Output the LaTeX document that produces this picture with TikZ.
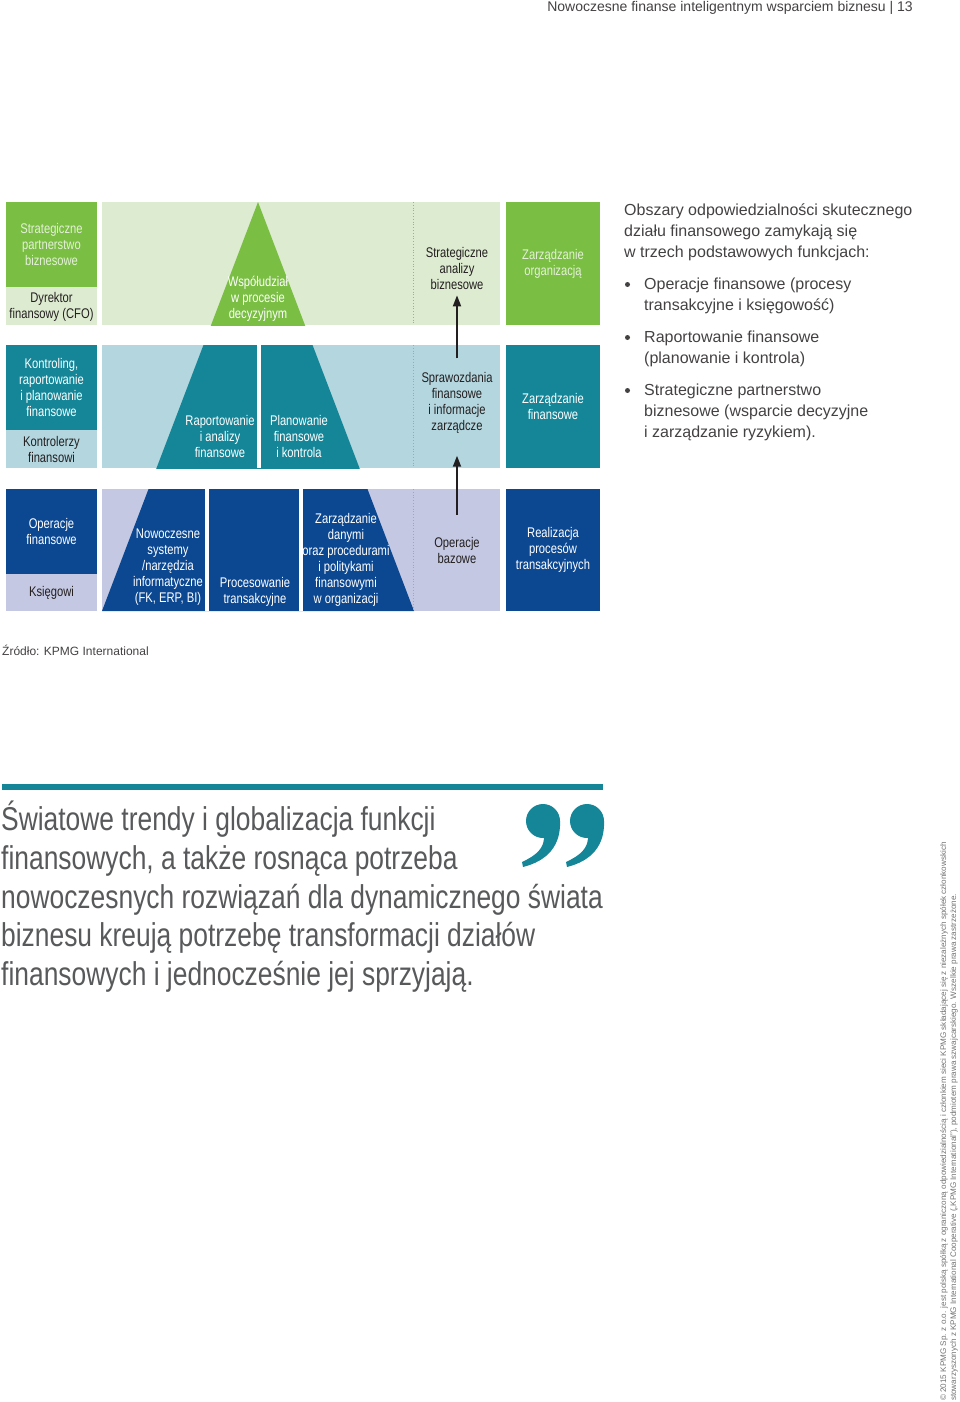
\documentclass[tikz,border=0pt]{standalone}
\usepackage{fontspec}
\setmainfont{Liberation Sans}
\newfontfamily\condfont[FakeStretch=0.8]{Liberation Sans}
\usetikzlibrary{arrows.meta,positioning}
\definecolor{KGreen}{HTML}{7ABE44}
\definecolor{KGreenLight}{HTML}{DDEBD0}
\definecolor{KTeal}{HTML}{148698}
\definecolor{KTealLight}{HTML}{B4D6DE}
\definecolor{KBlue}{HTML}{0C4892}
\definecolor{KBlueLight}{HTML}{C4C8E2}
\definecolor{KText}{HTML}{231F20}
\definecolor{KGrey}{HTML}{58595B}
\definecolor{KPale}{HTML}{E4F1D7}

\begin{document}
\begin{tikzpicture}[x=1pt,y=-1pt,
  cond/.style={font=\condfont\fontsize{14}{16}\selectfont,align=center,inner sep=0pt},
  colbox/.style={cond,minimum width=91pt,minimum height=85pt,text=white},
  rolebox/.style={cond,minimum width=91pt,text=KText},
  rbox/.style={cond,minimum width=94pt,minimum height=123pt,text=white},
  lbl/.style={cond,text=KText},
  inv/.style={cond,text=white},
  body/.style={font=\fontsize{16}{21}\selectfont,text=KText!85,align=left,inner sep=0pt,anchor=north west},
  dot/.style={circle,fill=KText!85,inner sep=0pt,minimum size=5pt},
  arr/.style={-{Triangle[length=11pt,width=8pt]},line width=1.8pt,color=KText},
  divline/.style={draw=black!35,dotted,line width=0.8pt}
]
\useasboundingbox (0,0) rectangle (960,1402);

% naglowek
\node[anchor=base east,inner sep=0pt,font=\fontsize{14}{16}\selectfont,text=KText!85] (head) at (913,12)
  {Nowoczesne finanse inteligentnym wsparciem biznesu | 13};

% tla pasow
\fill[KGreenLight] (102,202) rectangle (500,325);
\fill[KTealLight] (102,345) rectangle (500,468);
\fill[KBlueLight] (102,489) rectangle (500,611);

% piramida
\foreach \ya/\yb/\rowcol in {202/325/KGreen,345/468/KTeal,489/611/KBlue}{
  \begin{scope}
    \clip (102,\ya) rectangle (500,\yb);
    \fill[\rowcol] (258,202) -- (414,611) -- (102,611) -- cycle;
  \end{scope}
}
\fill[white] (257,345) rectangle (261,468);
\fill[white] (205,489) rectangle (209,611);
\fill[white] (299,489) rectangle (303,611);
\foreach \ya/\yb in {202/325,345/468,489/611}
  \draw[divline] (413,\ya) -- (413,\yb);

% lewa kolumna
\node[colbox,fill=KGreen,text=KPale] (partner) at (51.5,244.5) {Strategiczne\\partnerstwo\\biznesowe};
\node[rolebox,fill=KGreenLight,minimum height=38pt,below=0pt of partner] (cfo) {Dyrektor\\finansowy (CFO)};
\node[colbox,fill=KTeal] (kontroling) at (51.5,387.5) {Kontroling,\\raportowanie\\i planowanie\\finansowe};
\node[rolebox,fill=KTealLight,minimum height=38pt,below=0pt of kontroling] (kontrolerzy) {Kontrolerzy\\finansowi};
\node[colbox,fill=KBlue] (operfin) at (51.5,531.5) {Operacje\\finansowe};
\node[rolebox,fill=KBlueLight,minimum height=37pt,below=0pt of operfin] (ksiegowi) {Księgowi};

% prawa kolumna
\node[rbox,fill=KGreen,text=KPale] (zorg) at (553,263.5) {Zarządzanie\\organizacją};
\node[rbox,fill=KTeal] (zfin) at (553,406.5) {Zarządzanie\\finansowe};
\node[rbox,fill=KBlue,minimum height=122pt] (realizacja) at (553,550) {Realizacja\\procesów\\transakcyjnych};

% opisy w pasach
\node[inv] (wspol) at (258,299) {Współudział\\w procesie\\decyzyjnym};
\node[lbl] (stratan) at (457,268) {Strategiczne\\analizy\\biznesowe};
\node[inv] (raport) at (220,436) {Raportowanie\\i analizy\\finansowe};
\node[inv] (plan) at (299,436) {Planowanie\\finansowe\\i kontrola};
\node[lbl] (spraw) at (457,403) {Sprawozdania\\finansowe\\i informacje\\zarządcze};
\node[inv] (systemy) at (168,567.5) {Nowoczesne\\systemy\\/narzędzia\\informatyczne\\(FK, ERP, BI)};
\node[inv] (procesowanie) at (255,592) {Procesowanie\\transakcyjne};
\node[inv] (dane) at (346,559.5) {Zarządzanie\\danymi\\oraz procedurami\\i politykami\\finansowymi\\w organizacji};
\node[lbl] (bazowe) at (457,550) {Operacje\\bazowe};

\draw[arr,shorten <=14pt,shorten >=6pt] (spraw) -- (stratan);
\draw[arr,shorten <=22pt,shorten >=22pt] (bazowe) -- (spraw);

% tekst z prawej
\node[body] (intro) at (624,203.5) {Obszary odpowiedzialności skutecznego\\działu finansowego zamykają się\\w trzech podstawowych funkcjach:};
\node[body] (item1) at (644,277.5) {Operacje finansowe (procesy\\transakcyjne i księgowość)};
\node[body] (item2) at (644,330.5) {Raportowanie finansowe\\(planowanie i kontrola)};
\node[body] (item3) at (644,383.5) {Strategiczne partnerstwo\\biznesowe (wsparcie decyzyjne\\i zarządzanie ryzykiem).};
\node[dot] (dot1) at (627.5,284.5) {};
\node[dot] (dot2) at (627.5,337.5) {};
\node[dot] (dot3) at (627.5,390.5) {};

\node[anchor=base west,inner sep=0pt,font=\fontsize{12}{14}\selectfont,text=KText!85] (zrodlo) at (2,655.5) {Źródło: KPMG International};

% cytat
\fill[KTeal] (2,784) rectangle (603,790);
\node[anchor=north west,inner sep=0pt,align=left,text=KGrey,font=\condfont\fontsize{33}{38.6}\selectfont] (cytat) at (1,801)
  {Światowe trendy i globalizacja funkcji\\finansowych, a także rosnąca potrzeba\\nowoczesnych rozwiązań dla dynamicznego świata\\biznesu kreują potrzebę transformacji działów\\finansowych i jednocześnie jej sprzyjają.};
\foreach \qx in {543,587}{
  \fill[KTeal] (\qx,821) circle (17pt);
  \fill[KTeal] (\qx+17,821) .. controls (\qx+18,846) and (\qx+4,861) .. (\qx-20,867)
    -- (\qx-21,862) .. controls (\qx-6,855) and (\qx+1,848) .. (\qx+1,837) -- cycle;
}

% stopka
\node[rotate=90,anchor=north west,inner sep=0pt,align=left,text=black!55,font=\fontsize{8.1}{10}\selectfont] (copyright) at (940,1401)
  {© 2015 KPMG Sp. z o.o. jest polską spółką z ograniczoną odpowiedzialnością i członkiem sieci KPMG składającej się z niezależnych spółek członkowskich\\stowarzyszonych z KPMG International Cooperative („KPMG International”), podmiotem prawa szwajcarskiego. Wszelkie prawa zastrzeżone.};
\end{tikzpicture}
\end{document}
